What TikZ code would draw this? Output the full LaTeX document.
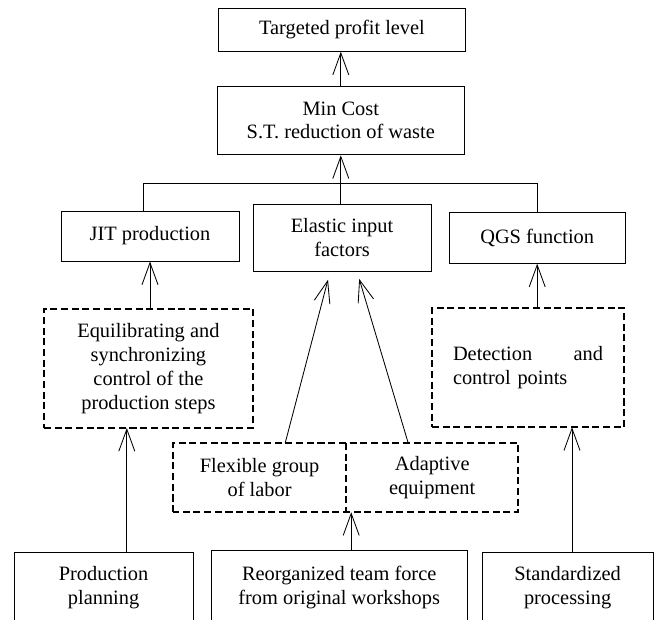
\documentclass[tikz,border=0pt]{standalone}
\usepackage{fontspec}
\setmainfont{Liberation Serif}
\usetikzlibrary{positioning,arrows.meta}

\begin{document}
\begin{tikzpicture}[
    >={Straight Barb[length=5.5mm,width=4mm]},
    box/.style={
        draw=black,
        line width=0.7pt,
        align=center,
        inner sep=2pt,
        font=\fontsize{14.5}{17}\selectfont
    },
    dline/.style={
        dash pattern=on 5pt off 2.6pt,
        line width=1.1pt
    },
    dbox/.style={box, dline, outer sep=0pt},
    half/.style={box, draw=none, outer sep=0pt},
    link/.style={line width=0.6pt, black}
]
\useasboundingbox (0,0) rectangle (16.5,-15.5);

% --- Goal and objective ---
\node[box, minimum width=6.18cm, minimum height=1.08cm] (target) at (8.55,-0.74) {Targeted profit level};
\node[box, minimum width=6.18cm, minimum height=1.72cm] (mincost) at (8.52,-3.01) {Min Cost\\S.T. reduction of waste};

% --- Three pillars ---
\node[box, minimum width=4.45cm, minimum height=1.25cm] (jit)     at (3.75,-5.90)  {JIT production};
\node[box, minimum width=4.45cm, minimum height=1.68cm] (elastic) at (8.55,-5.94)  {Elastic input\\factors};
\node[box, minimum width=4.40cm, minimum height=1.28cm] (qgs)     at (13.43,-5.94) {QGS function};

% --- Dashed means ---
\node[dbox, minimum width=5.22cm, minimum height=2.98cm] (equil)  at (3.71,-9.21) {Equilibrating and\\synchronizing\\control of the\\production steps};
\node[dbox, minimum width=4.80cm, minimum height=2.98cm, text width=3.75cm, align=left] (detect) at (13.20,-9.19) {Detection \hfill and\\control points};
\node[half, minimum width=4.33cm, minimum height=1.73cm] (flexible) at (6.49,-11.94) {Flexible group\\of labor};
\node[half, minimum width=4.30cm, minimum height=1.73cm, right=0pt of flexible] (adaptive) {Adaptive\\equipment};
\draw[dline] (flexible.south west) rectangle (adaptive.north east);
\draw[dline] (flexible.north east) -- (flexible.south east);

% --- Bottom sources (cut by the page edge) ---
\node[box, minimum width=4.48cm, minimum height=1.80cm] (prodplan) at (2.59,-14.70) {Production\\planning};
\node[box, minimum width=6.40cm, minimum height=1.85cm] (reorg)    at (8.48,-14.68) {Reorganized team force\\from original workshops};
\node[box, minimum width=4.28cm, minimum height=1.80cm] (standard) at (14.19,-14.70) {Standardized\\processing};

% --- Tree into Min Cost ---
\coordinate (junc) at (8.52,-4.58);
\draw[link] ([xshift=-0.175cm]jit.north) |- (junc) -| (qgs.north);
\draw[link, ->] (elastic.north -| mincost.south) -- (mincost.south);
\draw[link, ->] (mincost.north) -- (mincost.north |- target.south);

% --- Means to pillars ---
\draw[link, ->] (jit.south |- equil.north) -- (jit.south);
\draw[link, ->] (qgs.south |- detect.north) -- (qgs.south);
\draw[link, ->] ([xshift=0.64cm]flexible.north) -- ([xshift=-0.35cm,yshift=-0.2cm]elastic.south);
\draw[link, ->] ([xshift=-0.6cm]adaptive.north) -- ([xshift=0.43cm,yshift=-0.18cm]elastic.south);

% --- Sources to means ---
\coordinate (pp) at ([xshift=-0.54cm]equil.south);
\coordinate (rp) at ([xshift=0.3cm]reorg.north);
\coordinate (sp) at ([xshift=0.11cm]standard.north);
\draw[link, ->] (pp |- prodplan.north) -- (pp);
\draw[link, ->] (rp) -- (rp |- flexible.south);
\draw[link, ->] (sp) -- (sp |- detect.south);

\end{tikzpicture}
\end{document}
